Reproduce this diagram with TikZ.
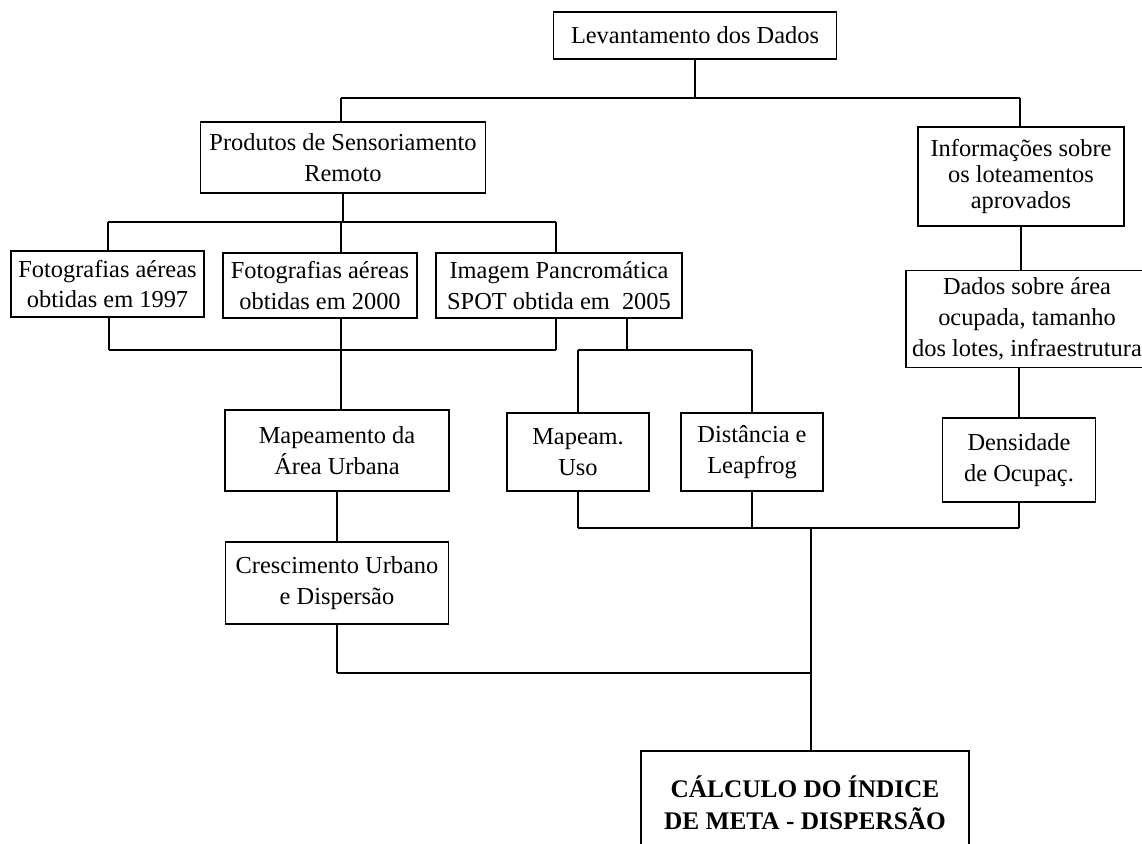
\documentclass[tikz,border=0pt]{standalone}
\usepackage{fontspec}
\setmainfont{Liberation Serif}
\usepackage{tikz}

\begin{document}
\begin{tikzpicture}
[x=0.75pt,y=-0.75pt,%
    boxDecorate/.style={shape=rectangle,draw=black,line width=1.1pt,align=center,inner sep=0pt,font=\fontsize{18.3}{23}\selectfont},%
    calcDecorate/.style={boxDecorate,font=\bfseries\fontsize{19}{24}\selectfont},%
    lineDecorate/.style={black,line width=1.1pt}]
    \useasboundingbox (0,0) rectangle (1142,843);
    %% boxes
    \foreach \nodename/\x/\y/\w/\h/\txt in {lev/695/35.5/283/47/{Levantamento dos Dados},
        prod/343/157.5/285/71/{Produtos de Sensoriamento\\Remoto},
        info/1021/176.5/206/99/{Informações sobre\\[-3.5pt]os loteamentos\\[-3.5pt]aprovados},
        foto97/107.5/284/193/66/{Fotografias aéreas\\obtidas em 1997},
        foto00/320/285.5/194/65/{Fotografias aéreas\\obtidas em 2000},
        img/559/285.5/246/65/{Imagem Pancromática\\SPOT obtida em\ \ 2005},
        dados/1027/319/242/97/{Dados sobre área\\ocupada, tamanho\\dos lotes, infraestrutura},
        mapa/337/450.5/224/81/{Mapeamento da\\Área Urbana},
        uso/578/452/142/78/{Mapeam.\\Uso},
        dist/752/452/142/78/{Distância e\\Leapfrog},
        dens/1019/460/153/84/{Densidade\\de Ocupaç.},
        cresc/337/583/223/82/{Crescimento Urbano\\e Dispersão}}
    {
        \node (\nodename) at (\x,\y) [boxDecorate,minimum width=\w*0.75pt,minimum height=\h*0.75pt] {\txt};
    }
    \node (calc) at (805,803) [calcDecorate,minimum width=328*0.75pt,minimum height=104*0.75pt] {CÁLCULO DO ÍNDICE\\DE META - DISPERSÃO};
    %% junctions
    \foreach \jname/\x/\y in {a/695/98, aL/341/98, aR/1020/98,
        b/341/222, bL/108/222, bR/556/222,
        c/341/350, cL/109/350, cR/556/350,
        d/627/350, dL/578/350, dR/752/350,
        e/811/528, eL/578/528, eM/752/528, eR/1019/528,
        f/811/673, fL/337/673}
    {
        \coordinate (\jname) at (\x,\y);
    }
    %% edges or lines
    \path\foreach \startnode/\endnode in {lev/a, aL/aR, aL/aL|-prod.north, aR/aR|-info.north,
        prod/prod.south|-b, bL/bR, bL/bL|-foto97.north, b/b|-foto00.north, bR/bR|-img.north,
        cL/cR, cL|-foto97.south/cL, c|-foto00.south/c, cR|-img.south/cR, c/c|-mapa.north,
        d|-img.south/d, dL/dR, dL/uso, dR/dist,
        info/info|-dados.north, dens.north|-dados.south/dens,
        uso/eL, dist/eM, dens/eR, eL/eR, e/f, f/f|-calc.north,
        mapa/cresc, cresc/fL, fL/f}
    {
        (\startnode) edge[lineDecorate] (\endnode)
    };
\end{tikzpicture}
\end{document}
